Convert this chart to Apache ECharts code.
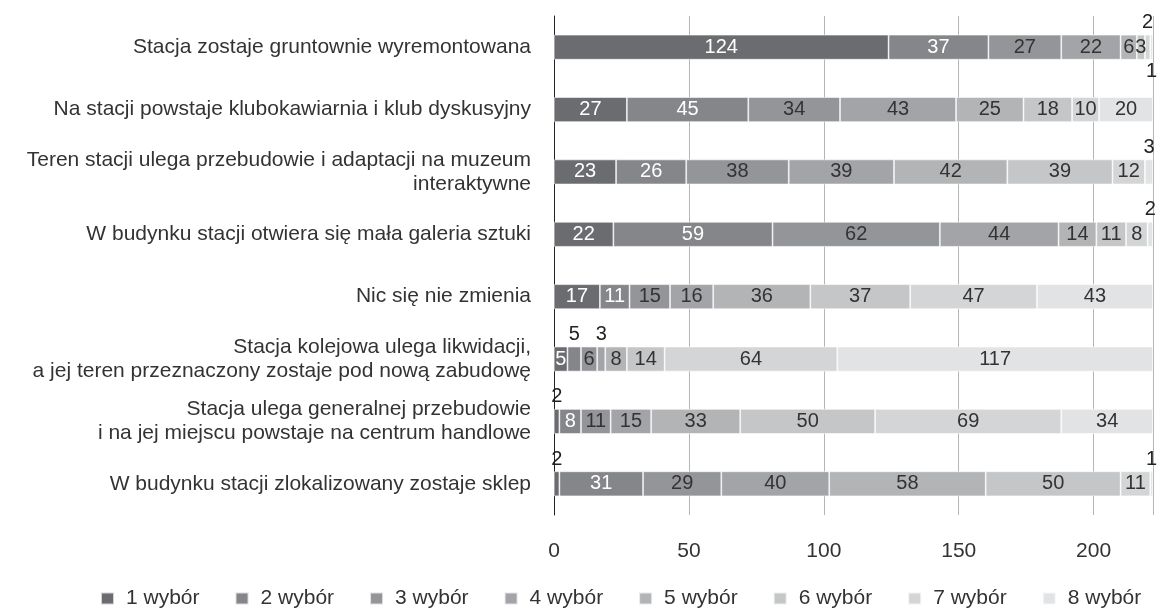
<!DOCTYPE html>
<html>
<head>
<meta charset="utf-8">
<script src="https://cdn.jsdelivr.net/npm/echarts@6/dist/echarts.min.js"></script>
<style>html,body{margin:0;padding:0;background:#fff}#c{width:1161px;height:610px}</style>
</head>
<body>
<div id="c"></div>
<script>
const categories = [
  "Stacja zostaje gruntownie wyremontowana",
  "Na stacji powstaje klubokawiarnia i klub dyskusyjny",
  "Teren stacji ulega przebudowie i adaptacji na muzeum\ninteraktywne",
  "W budynku stacji otwiera się mała galeria sztuki",
  "Nic się nie zmienia",
  "Stacja kolejowa ulega likwidacji,\na jej teren przeznaczony zostaje pod nową zabudowę",
  "Stacja ulega generalnej przebudowie\ni na jej miejscu powstaje na centrum handlowe",
  "W budynku stacji zlokalizowany zostaje sklep"
];
const seriesNames = ["1 wybór","2 wybór","3 wybór","4 wybór","5 wybór","6 wybór","7 wybór","8 wybór"];
const wybor1 = [124, 27, 23, 22, 17, 5, 2, 2];
const wybor2 = [37, 45, 26, 59, 11, 5, 8, 31];
const wybor3 = [27, 34, 38, 62, 15, 6, 11, 29];
const wybor4 = [22, 43, 39, 44, 16, 3, 15, 40];
const wybor5 = [6, 25, 42, 14, 36, 8, 33, 58];
const wybor6 = [3, 18, 39, 11, 37, 14, 50, 50];
const wybor7 = [2, 10, 12, 8, 47, 64, 69, 11];
const wybor8 = [1, 20, 3, 2, 43, 117, 34, 1];
const xTicks = [0, 50, 100, 150, 200];
// labels drawn outside the bar: [category index, series index, side]
const outsideLabels = [[0,6,'top'],[0,7,'bottom'],[2,7,'top'],[3,7,'top'],[5,1,'top'],[5,3,'top'],[6,0,'top'],[7,0,'top'],[7,7,'top']];

const allValues = [wybor1, wybor2, wybor3, wybor4, wybor5, wybor6, wybor7, wybor8];
const colors = ['#6b6c70','#85868a','#949599','#a3a4a7','#b3b4b6','#c5c6c8','#d4d5d7','#e2e3e4'];
const FONT = 'Liberation Sans, Arial, sans-serif';

const series = allValues.map((vals, si) => ({
  name: seriesNames[si],
  type: 'bar',
  stack: 'total',
  barWidth: 25,
  itemStyle: { color: colors[si], borderColor: 'rgba(255,255,255,0.7)', borderWidth: 0.8 },
  label: {
    show: true,
    position: 'inside',
    color: si < 2 ? '#ffffff' : '#333333',
    fontFamily: FONT,
    fontSize: 20
  },
  data: vals.map((v, ci) => {
    const o = outsideLabels.find(e => e[0] === ci && e[1] === si);
    if (o) {
      return { value: v, label: { position: o[2], distance: 2, color: '#222222' } };
    }
    return { value: v };
  })
}));

const chart = echarts.init(document.getElementById('c'), null, { renderer: 'canvas' });
chart.setOption({
  animation: false,
  backgroundColor: '#ffffff',
  color: colors,
  grid: { left: 554, right: 8, top: 16, bottom: 95, containLabel: false },
  legend: {
    bottom: 1,
    left: 100,
    padding: 0,
    itemWidth: 13,
    itemHeight: 12,
    itemGap: 35,
    icon: 'rect',
    textStyle: { fontFamily: FONT, fontSize: 21, color: '#333', padding: [0, 0, 0, 7] },
    data: seriesNames
  },
  xAxis: {
    type: 'value',
    min: 0,
    max: 222,
    interval: 50,
    axisLine: { show: false },
    axisTick: { show: false },
    splitLine: { show: true, lineStyle: { color: '#b5b5b5', width: 1 } },
    axisLabel: {
      margin: 26,
      fontFamily: FONT,
      fontSize: 21,
      color: '#333',
      formatter: v => (xTicks.indexOf(v) >= 0 ? String(v) : '')
    }
  },
  yAxis: {
    type: 'category',
    inverse: true,
    data: categories,
    axisLine: { show: true, lineStyle: { color: '#222', width: 1 } },
    axisTick: { show: false },
    axisLabel: {
      margin: 23,
      fontFamily: FONT,
      fontSize: 21,
      color: '#333',
      lineHeight: 24,
      align: 'right'
    }
  },
  series: series
});
</script>
</body>
</html>
